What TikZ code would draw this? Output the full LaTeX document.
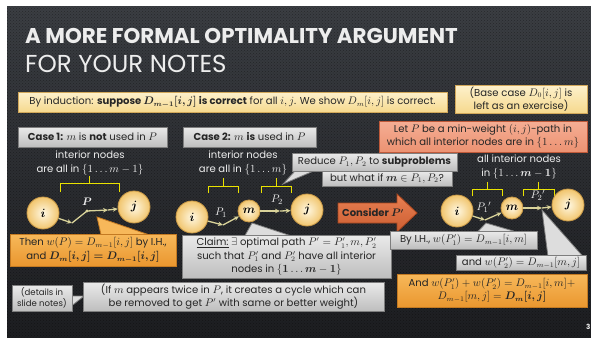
\documentclass[tikz,border=0pt]{standalone}
\usepackage{fontspec}
\setmainfont{Poppins}[Scale=0.95]
\usepackage{amsmath,bm}
\usetikzlibrary{arrows.meta,patterns}
\definecolor{bgtop}{HTML}{3B3E43}
\definecolor{bgbot}{HTML}{1D1E21}
\definecolor{ytop}{HTML}{FDF1CC}
\definecolor{ybot}{HTML}{F6D98E}
\definecolor{ybord}{HTML}{D2A85A}
\definecolor{gtop}{HTML}{EAEAEA}
\definecolor{gbot}{HTML}{BEBEBE}
\definecolor{gbord}{HTML}{7E7E7E}
\definecolor{stop}{HTML}{F5AE94}
\definecolor{sbot}{HTML}{EC9272}
\definecolor{sbord}{HTML}{C05A3A}
\definecolor{otop}{HTML}{F7B85A}
\definecolor{obot}{HTML}{EA972F}
\definecolor{obord}{HTML}{C47A22}
\definecolor{atop}{HTML}{E88052}
\definecolor{abot}{HTML}{CC5E32}
\definecolor{abord}{HTML}{A8461E}
\definecolor{cin}{HTML}{FFF8E2}
\definecolor{cout}{HTML}{F1C56E}
\definecolor{cbord}{HTML}{C99A48}
\definecolor{pathc}{HTML}{D9D39A}
\definecolor{brc}{HTML}{E9E200}
\definecolor{lighttxt}{HTML}{EDEDED}
\begin{document}
\begin{tikzpicture}[x=1pt,y=-1pt,
  txt/.style={font=\fontsize{10.6}{13.4}\selectfont, text=black!85, align=center, inner sep=0pt},
  ybox/.style={txt, draw=ybord, line width=0.8pt, top color=ytop, bottom color=ybot},
  gbox/.style={txt, draw=gbord, line width=0.8pt, top color=gtop, bottom color=gbot},
  gptr/.style={draw=gbord, line width=0.8pt, fill=gtop!70!gbot},
  sbox/.style={txt, draw=sbord, line width=0.8pt, top color=stop, bottom color=sbot},
  obox/.style={txt, draw=obord, line width=0.8pt, top color=otop, bottom color=obot},
  optr/.style={draw=obord, line width=0.8pt, fill=otop},
  dtxt/.style={txt, text=lighttxt},
  vertex/.style={circle, draw=cbord, line width=0.8pt, inner color=cin, outer color=cout, inner sep=0pt, font=\fontsize{12}{12}\selectfont, text=black},
  big/.style={vertex, minimum size=32},
  small/.style={vertex, minimum size=22},
  pline/.style={draw=pathc, line width=1.3pt},
  parr/.style={pline, -{Stealth[length=5pt,width=4.5pt]}},
  brace/.style={draw=brc, line width=1pt},
  plab/.style={inner sep=0pt, text=lighttxt, font=\fontsize{11}{11}\selectfont}
]
\useasboundingbox (0,0) rectangle (591,337);
\fill[white] (0,0) rectangle (591,337);
\shade[top color=bgtop, bottom color=bgbot] (7,7) rectangle (591,337);
\fill[pattern=crosshatch dots, pattern color=black, opacity=0.35] (7,7) rectangle (591,337);

% title
\node[anchor=base west, inner sep=0pt, text=lighttxt, font=\fontsize{22.5}{25}\selectfont\bfseries] (t1) at (25,44) {A MORE FORMAL OPTIMALITY ARGUMENT};
\node[anchor=base west, inner sep=0pt, text=lighttxt, font=\fontsize{25.8}{26}\selectfont] (t2) at (25,73) {FOR YOUR NOTES};

% top boxes
\node[ybox, minimum width=429, minimum height=20] (ind) at (232.5,102)
  {By induction: \textbf{suppose $\bm{D_{m-1}[i,j]}$ is correct} for all $i,j$. We show $D_m[i,j]$ is correct.};
\node[ybox, minimum width=132, minimum height=28] (base) at (521,99)
  {(Base case $D_0[i,j]$ is\\left as an exercise)};
\node[gbox, minimum width=149, minimum height=20] (case1) at (92.5,137)
  {\textbf{Case 1:} $m$ is \textbf{not} used in $P$};
\node[gbox, minimum width=133, minimum height=20] (case2) at (249.5,137)
  {\textbf{Case 2:} $m$ \textbf{is} used in $P$};
\node[sbox, minimum width=208, minimum height=31] (letp) at (483,136.5)
  {Let $P$ be a min-weight $(i,j)$-path in\\which all interior nodes are in $\{1\ldots m\}$};

% interior node texts
\node[dtxt] (int1) at (90,163) {interior nodes\\are all in $\{1\ldots m-1\}$};
\node[dtxt] (int2) at (243,163) {interior nodes\\are all in $\{1\ldots m\}$};
\node[dtxt] (int3) at (519,167) {all interior nodes\\in $\{1\ldots\bm{m}-\bm{1}\}$};

% braces
\draw[brace] (60,192) -- (60,183) -- (119,183) -- (119,192) (89.5,183) -- (89.5,176);
\draw[brace] (208,193) -- (208,186) -- (238,186) -- (238,193) (223,186) -- (223,178);
\draw[brace] (261,193) -- (261,186) -- (291,186) -- (291,193) (276,186) -- (276,178);
\draw[brace] (472,196) -- (472,189) -- (502,189) -- (502,196) (487,189) -- (487,182);
\draw[brace] (523,196) -- (523,189) -- (554,189) -- (554,196) (538.5,189) -- (538.5,182);

% case 1 graph
\node[big] (i1) at (43,213) {$\bm{i}$};
\node[big] (j1) at (134,207) {$\bm{j}$};
\coordinate (a1) at (72,223);
\coordinate (b1) at (87,211);
\coordinate (c1) at (108,210);
\draw[parr] (i1) -- (a1);
\draw[pline] (a1) -- (b1);
\draw[parr] (b1) -- (c1);
\draw[parr] (c1) -- (j1);
\fill[pathc] (b1) circle (1.6);
\node[plab] (lp) at (87,202) {$\bm{P}$};

% case 2 graph
\node[big] (i2) at (192,217) {$\bm{i}$};
\node[small] (m2) at (249,211) {$\bm{m}$};
\node[big] (j2) at (307,210) {$\bm{j}$};
\coordinate (a2) at (223,225);
\coordinate (b2) at (280,211);
\draw[parr] (i2) -- (a2);
\draw[parr] (a2) -- (m2);
\draw[parr] (m2) -- (b2);
\draw[parr] (b2) -- (j2);
\node[plab] (lp1) at (221,213) {$P_1$};
\node[plab] (lp2) at (277,200) {$P_2$};

% case 3 graph
\node[big] (i3) at (457,211) {$\bm{i}$};
\node[small] (m3) at (512,208) {$\bm{m}$};
\node[big] (j3) at (568,205) {$\bm{j}$};
\coordinate (a3) at (485,220);
\coordinate (b3) at (542,208);
\draw[parr] (i3) -- (a3);
\draw[parr] (a3) -- (m3);
\draw[parr] (m3) -- (b3);
\draw[parr] (b3) -- (j3);
\node[plab] (lq1) at (484,207) {$P_1{}'$};
\node[plab] (lq2) at (538,195) {$P_2{}'$};

% consider arrow
\shade[top color=atop, bottom color=abot, draw=abord, line width=0.8pt]
  (338,203) -- (397,203) -- (397,194) -- (417,213) -- (397,232) -- (397,223) -- (338,223) -- cycle;
\node[txt] (cons) at (373,213) {\textbf{Consider $\bm{P'}$}};

% pointers
\coordinate (tp1) at (97,217);
\filldraw[optr] (tp1) -- (148,234.5) -- (101,234.5) -- cycle;
\coordinate (tpr) at (283,184);
\filldraw[gptr] (tpr) -- (296,170) -- (316,170) -- cycle;
\coordinate (tcl) at (252,223);
\filldraw[gptr] (tcl) -- (290,235.5) -- (245,235.5) -- cycle;
\coordinate (tih) at (486,223);
\filldraw[gptr] (tih) -- (515,231.5) -- (478,231.5) -- cycle;
\coordinate (taw) at (542,210);
\filldraw[gptr] (taw) -- (583,256.5) -- (548,256.5) -- cycle;
\coordinate (tdt) at (84,296);
\filldraw[gptr] (tdt) -- (71.5,306) -- (71.5,296) -- cycle;

% lower boxes
\node[obox, minimum width=166, minimum height=32] (then) at (93,250)
  {Then $w(P)=D_{m-1}[i,j]$ by I.H.,\\and $\bm{D_m[i,j]=D_{m-1}[i,j]}$};
\node[gbox, minimum width=165, minimum height=18] (red) at (374.5,162)
  {Reduce $P_1,P_2$ to \textbf{subproblems}};
\node[gbox, minimum width=130, minimum height=15] (what) at (387,178.5)
  {but what if $\bm{m}\in P_1,P_2$?};
\node[gbox, minimum width=209, minimum height=43] (claim) at (286.5,256.5)
  {\underline{Claim:} $\exists$ optimal path $P'=P_1',m,P_2'$\\such that $P_1'$ and $P_2'$ have all interior\\nodes in $\{\bm{1}\ldots\bm{m}-\bm{1}\}$};
\node[gbox, minimum width=147, minimum height=18] (byih) at (463.5,240)
  {By I.H., $w(P_1')=D_{m-1}[i,m]$};
\node[gbox, minimum width=130, minimum height=15] (andw) at (521,263)
  {and $w(P_2')=D_{m-1}[m,j]$};
\node[obox, minimum width=190, minimum height=33] (andb) at (492,290.5)
  {And $w(P_1')+w(P_2')=D_{m-1}[i,m]+$\\$D_{m-1}[m,j]=\bm{D_m[i,j]}$};
\node[gbox, font=\fontsize{9}{11}\selectfont, minimum width=60, minimum height=26] (det) at (42,298)
  {(details in\\slide notes)};
\node[gbox, minimum width=301, minimum height=29] (ifb) at (233.5,296.5)
  {(If $m$ appears twice in $P$, it creates a cycle which can\\be removed to get $P'$ with same or better weight)};

\node[inner sep=0pt, text=lighttxt, font=\fontsize{7.5}{7.5}\selectfont\bfseries, anchor=west] (num) at (586,327) {3};
\end{tikzpicture}
\end{document}
